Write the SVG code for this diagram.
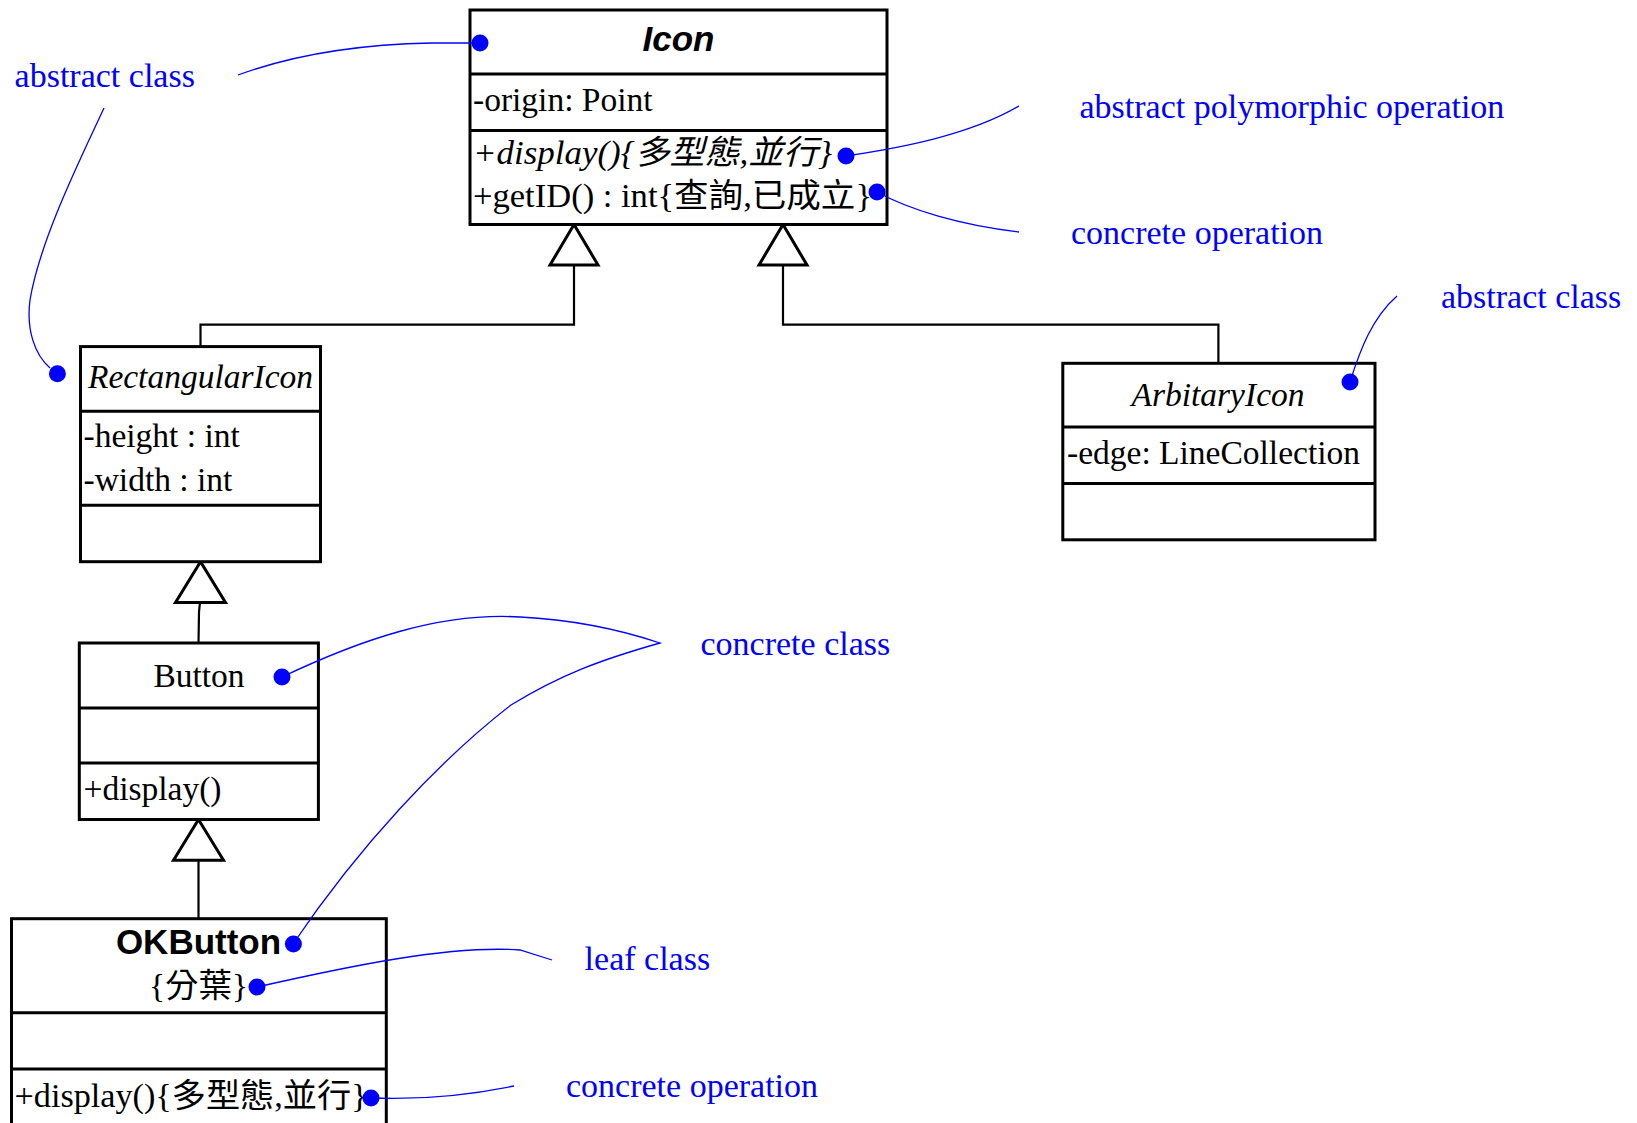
<svg xmlns="http://www.w3.org/2000/svg" width="1637" height="1123" viewBox="0 0 1637 1123">
<style>
.box{fill:#fff;stroke:#000;stroke-width:3}
.dv{stroke:#000;stroke-width:3}
.t{font-family:"Liberation Serif","Noto Sans CJK TC",serif;font-size:33.5px;fill:#000}
.it{font-style:italic}
.note{font-family:"Liberation Serif","Noto Sans CJK TC",serif;font-size:34px;fill:#0000ff}
.lead{fill:none;stroke:#0000ff;stroke-width:1.3}
.dot{fill:#0000ff}
.gen{fill:none;stroke:#000;stroke-width:2.2}
.tri{fill:#fff;stroke:#000;stroke-width:3;stroke-linejoin:miter}
</style>
<rect width="1637" height="1123" fill="#fff"/>
<g id="connectors">
<polyline class="gen" points="200.5,346.6 200.5,324.7 574,324.7 574,265"/>
<polygon class="tri" points="574,224.5 550,265 598,265"/>
<polyline class="gen" points="783,265 783,324.7 1218.4,324.7 1218.4,363"/>
<polygon class="tri" points="783,224.5 759,265 807,265"/>
<polyline class="gen" points="200,602.4 199,612 198.5,643"/>
<polygon class="tri" points="200.5,561.7 175.5,602.4 225.5,602.4"/>
<line class="gen" x1="198.5" y1="860.3" x2="198.5" y2="918.7"/>
<polygon class="tri" points="198.5,819.5 173.5,860.3 223.5,860.3"/>
</g>
<g id="Icon">
<rect class="box" x="470" y="10" width="417" height="214.5"/>
<line class="dv" x1="470" y1="74" x2="887" y2="74"/>
<line class="dv" x1="470" y1="130.5" x2="887" y2="130.5"/>
<text x="678.5" y="51" text-anchor="middle" font-family="'Liberation Sans',sans-serif" font-weight="bold" font-style="italic" font-size="35px">Icon</text>
<text class="t" x="473" y="111">-origin: Point</text>
<text class="t it" x="473" y="164" textLength="359" lengthAdjust="spacingAndGlyphs">+display(){多型態,並行}</text>
<text class="t" x="473" y="207" textLength="399" lengthAdjust="spacingAndGlyphs">+getID() : int{查詢,已成立}</text>
</g>
<g id="RectangularIcon">
<rect class="box" x="80.5" y="346.6" width="240" height="215.1"/>
<line class="dv" x1="80.5" y1="411.3" x2="320.5" y2="411.3"/>
<line class="dv" x1="80.5" y1="505.3" x2="320.5" y2="505.3"/>
<text class="t it" x="200.5" y="388" text-anchor="middle">RectangularIcon</text>
<text class="t" x="83.5" y="447">-height : int</text>
<text class="t" x="83.5" y="491">-width : int</text>
</g>
<g id="ArbitaryIcon">
<rect class="box" x="1062.8" y="363.3" width="312.2" height="176.5"/>
<line class="dv" x1="1062.8" y1="427" x2="1375" y2="427"/>
<line class="dv" x1="1062.8" y1="483.4" x2="1375" y2="483.4"/>
<text class="t it" x="1218" y="406" text-anchor="middle">ArbitaryIcon</text>
<text class="t" x="1067" y="464">-edge: LineCollection</text>
</g>
<g id="Button">
<rect class="box" x="79.3" y="643" width="239.1" height="176.5"/>
<line class="dv" x1="79.3" y1="708" x2="318.4" y2="708"/>
<line class="dv" x1="79.3" y1="763" x2="318.4" y2="763"/>
<text class="t" x="199" y="687" text-anchor="middle">Button</text>
<text class="t" x="83.5" y="800">+display()</text>
</g>
<g id="OKButton">
<rect class="box" x="11.5" y="918.7" width="374.8" height="220"/>
<line class="dv" x1="11.5" y1="1012.7" x2="386.3" y2="1012.7"/>
<line class="dv" x1="11.5" y1="1069" x2="386.3" y2="1069"/>
<text x="198.5" y="954" text-anchor="middle" font-family="'Liberation Sans',sans-serif" font-weight="bold" font-size="35px">OKButton</text>
<text class="t" x="198.5" y="997" text-anchor="middle">{分葉}</text>
<text class="t" x="14.6" y="1107" textLength="353" lengthAdjust="spacingAndGlyphs">+display(){多型態,並行}</text>
</g>
<g id="notes">
<path class="lead" d="M480,43 L432,43 Q320,45 238,75"/>
<path class="lead" d="M104,108 C80,160 40,240 30,300 C26,330 35,355 50,368"/>
<path class="lead" d="M846,156 C900,148 970,135 1019,106"/>
<path class="lead" d="M877,192 C910,210 960,225 1019,232"/>
<path class="lead" d="M1350,382 C1360,350 1372,318 1397,296"/>
<path class="lead" d="M282,677 C360,640 440,612 520,617 C580,620 630,633 660,643 C600,660 560,675 511,705 C440,760 360,845 293,944"/>
<path class="lead" d="M257,987 C350,966 450,945 520,950 L552,960"/>
<path class="lead" d="M371,1098 C420,1100 470,1095 514,1086"/>
<circle class="dot" cx="480" cy="43" r="8.5"/>
<circle class="dot" cx="57.4" cy="373.7" r="8.5"/>
<circle class="dot" cx="846" cy="156" r="8.5"/>
<circle class="dot" cx="877" cy="192" r="8.5"/>
<circle class="dot" cx="1350" cy="382" r="8.5"/>
<circle class="dot" cx="282" cy="677" r="8.5"/>
<circle class="dot" cx="293.4" cy="944" r="8.5"/>
<circle class="dot" cx="257" cy="987" r="8.5"/>
<circle class="dot" cx="371" cy="1098" r="8.5"/>
<text class="note" x="14.6" y="87">abstract class</text>
<text class="note" x="1079.5" y="118">abstract polymorphic operation</text>
<text class="note" x="1071" y="244">concrete operation</text>
<text class="note" x="1441" y="308">abstract class</text>
<text class="note" x="700.5" y="655">concrete class</text>
<text class="note" x="584.6" y="970">leaf class</text>
<text class="note" x="566" y="1097">concrete operation</text>
</g>
</svg>
